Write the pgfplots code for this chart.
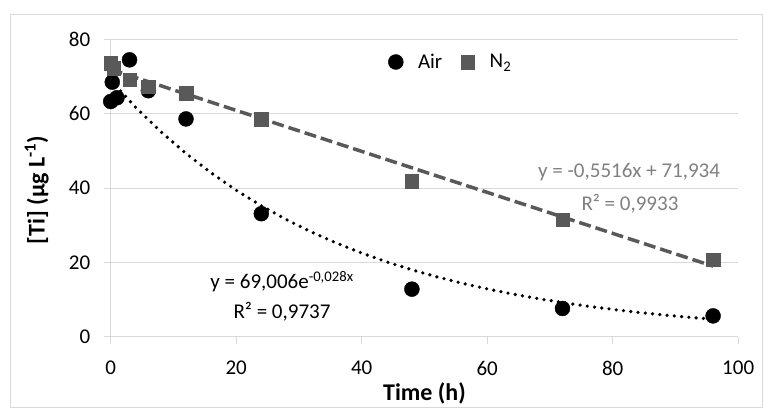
\documentclass[border=0pt]{standalone}
\usepackage{pgfplots}
\pgfplotsset{compat=1.18}
\usepackage{fontspec}
\setmainfont{Carlito}
\definecolor{gridc}{HTML}{D9D9D9}
\definecolor{ntwo}{HTML}{595959}
\definecolor{eqgray}{HTML}{808080}
\begin{document}
\begin{tikzpicture}
\useasboundingbox (-110.7pt,-71.3pt) rectangle (652.3pt,336.7pt);
\draw[gridc, line width=1pt] (-100.2pt,-70.8pt) rectangle (651.8pt,322.2pt);
\begin{axis}[
  at={(0pt,0pt)}, anchor=south west,
  scale only axis, width=627.5pt, height=297.3pt,
  xmin=0, xmax=100, ymin=0, ymax=80,
  xtick={0,20,...,100}, ytick={0,20,...,80},
  axis lines=left, axis line style={gridc, line width=1pt, -},
  tick style={gridc, line width=1pt}, tick align=outside, major tick length=7pt,
  ymajorgrids, grid style={gridc, line width=1pt},
  /pgf/number format/assume math mode=true,
  tick label style={font=\fontsize{21}{25}\selectfont, black},
  xticklabel style={yshift=-14pt},
  yticklabel style={xshift=-10pt},
  xlabel={Time (h)},
  ylabel={[Ti] (µg L\textsuperscript{-1})},
  label style={font=\bfseries\fontsize{24}{28}\selectfont},
  xlabel style={at={(axis description cs:0.5,-0.19)}, anchor=center},
  ylabel style={at={(axis description cs:-0.118,0.494)}, anchor=center},
  legend style={at={(axis description cs:0.441,0.924)}, anchor=west, draw=none, fill=none,
    inner sep=0pt, font=\fontsize{21}{25}\selectfont,
    /tikz/every even column/.append style={column sep=15pt}},
  legend columns=2,
  legend image code/.code={\path[#1] plot coordinates {(0pt,0pt)}; \path (-8pt,0pt) (20pt,0pt);},
]
\addplot[only marks, mark=*, mark size=7.5pt, mark options={fill=black, draw=black}] coordinates {
 (0,63.3) (0.25,68.5) (1,64.3) (3,74.5) (6,66.2) (12,58.6) (24,33.1) (48,12.8) (72,7.6) (96,5.6)};
\addlegendentry{Air}
\addplot[only marks, mark=square*, mark size=6.75pt, mark options={fill=ntwo, draw=ntwo}] coordinates {
 (0,73.6) (0.5,72.3) (3,69.1) (6,67.3) (12,65.5) (24,58.5) (48,41.9) (72,31.5) (96,20.7)};
\addlegendentry{N\textsubscript{2}}
% exponential trendline y = 69.006 e^{-0.028x}
\addplot[black, line width=3.6pt, dash pattern=on 0pt off 7.3pt, line cap=round, forget plot] coordinates {
 (0,69.006) (4,61.694) (8,55.158) (12,49.313) (16,44.088) (20,39.417) (24,35.241) (28,31.506)
 (32,28.168) (36,25.184) (40,22.515) (44,20.130) (48,17.997) (52,16.090) (56,14.385) (60,12.861)
 (64,11.498) (68,10.280) (72,9.190) (76,8.217) (80,7.346) (84,6.568) (88,5.872) (92,5.250) (96,4.693)};
% linear trendline y = -0.5516x + 71.934
\addplot[ntwo, line width=3.5pt, dash pattern=on 12pt off 5pt, forget plot] coordinates {
 (0,71.934) (96,18.980)};
\node[font=\fontsize{21}{25}\selectfont, text=eqgray, anchor=center] at (axis cs:82.6,44.4) {y = -0,5516x + 71,934};
\node[font=\fontsize{21}{25}\selectfont, text=eqgray, anchor=center] at (axis cs:82.75,35.9) {R² = 0,9933};
\node[font=\fontsize{21}{25}\selectfont, text=black, anchor=center] at (axis cs:27.3,14.85) {y = 69,006e\textsuperscript{-0,028x}};
\node[font=\fontsize{21}{25}\selectfont, text=black, anchor=center] at (axis cs:27.3,6.73) {R² = 0,9737};
\end{axis}
\end{tikzpicture}
\end{document}
